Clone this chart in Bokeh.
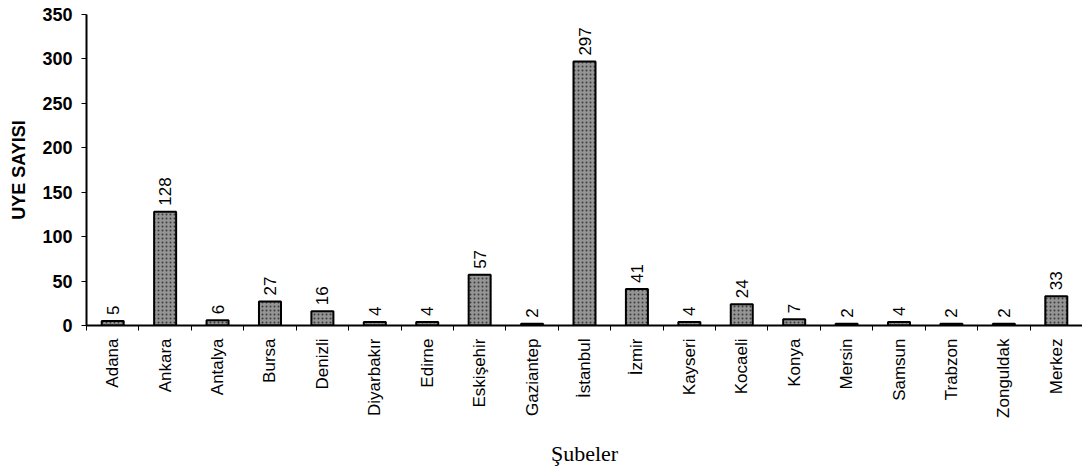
import math
from bokeh.plotting import figure
from bokeh.models import ColumnDataSource, FixedTicker, Range1d
from bokeh.core.properties import value
from bokeh.embed import file_html
from bokeh.resources import INLINE

subeler = ["Adana", "Ankara", "Antalya", "Bursa", "Denizli", "Diyarbakır", "Edirne",
           "Eskişehir", "Gaziantep", "İstanbul", "İzmir", "Kayseri", "Kocaeli", "Konya",
           "Mersin", "Samsun", "Trabzon", "Zonguldak", "Merkez"]
uye_sayisi = [5, 128, 6, 27, 16, 4, 4, 57, 2, 297, 41, 4, 24, 7, 2, 4, 2, 2, 33]
y_ticks = [0, 50, 100, 150, 200, 250, 300, 350]

n = len(subeler)
xs = [i + 0.5 for i in range(n)]
src = ColumnDataSource(dict(x=xs, top=uye_sayisi, lbl=[str(v) for v in uye_sayisi]))

p = figure(frame_width=996, frame_height=311, output_backend="svg", toolbar_location=None,
           x_range=Range1d(0, n), y_range=Range1d(0, 350),
           min_border_left=86, min_border_right=0, min_border_top=14, min_border_bottom=146)
p.outline_line_color = None
p.xgrid.grid_line_color = None
p.ygrid.grid_line_color = None

p.vbar(x="x", top="top", width=0.42, source=src, fill_color="#959595",
       line_color="black", line_width=2,
       hatch_pattern="dot", hatch_color="black", hatch_scale=4, hatch_alpha=0.6)

p.text(x="x", y="top", text="lbl", source=src, angle=math.pi / 2,
       x_offset=0, y_offset=-6, text_align="left", text_baseline="middle",
       text_font=value("Liberation Sans"), text_font_size="17px", text_color="black")

# x axis
xa = p.xaxis[0]
xa.ticker = FixedTicker(ticks=xs, minor_ticks=list(range(n + 1)))
xa.major_label_overrides = {x: s for x, s in zip(xs, subeler)}
xa.major_label_orientation = math.pi / 2
xa.major_tick_line_color = None
xa.major_tick_out = 5
xa.minor_tick_line_color = "black"
xa.minor_tick_in = 0
xa.minor_tick_out = 5
xa.axis_line_color = "black"
xa.axis_line_width = 2
xa.major_label_standoff = 8
xa.major_label_text_font = "Liberation Sans"
xa.major_label_text_font_size = "17px"
xa.major_label_text_color = "black"
xa.axis_label = "Şubeler"
xa.axis_label_text_font = "Liberation Serif"
xa.axis_label_text_font_size = "22px"
xa.axis_label_text_font_style = "normal"
xa.axis_label_text_color = "black"
xa.axis_label_standoff = 20

# y axis
ya = p.yaxis[0]
ya.ticker = FixedTicker(ticks=y_ticks)
ya.minor_tick_line_color = None
ya.major_tick_in = 0
ya.major_tick_out = 5
ya.major_tick_line_color = "black"
ya.axis_line_color = "black"
ya.axis_line_width = 2
ya.major_label_standoff = 9
ya.major_label_text_font = "Liberation Sans"
ya.major_label_text_font_size = "18px"
ya.major_label_text_font_style = "bold"
ya.major_label_text_color = "black"
ya.axis_label = "UYE SAYISI"
ya.axis_label_text_font = "Liberation Sans"
ya.axis_label_text_font_size = "18px"
ya.axis_label_text_font_style = "bold"
ya.axis_label_text_color = "black"
ya.axis_label_standoff = 10

open("out.html", "w").write(file_html(p, INLINE))
